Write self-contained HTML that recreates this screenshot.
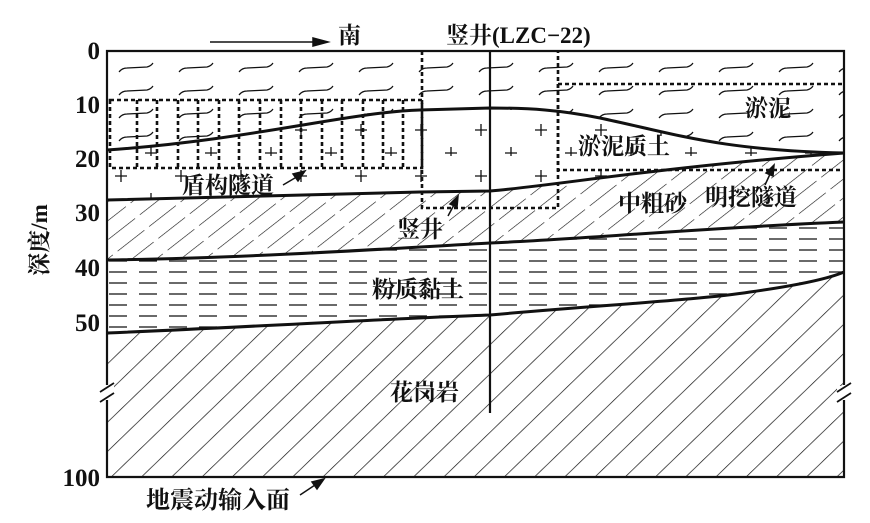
<!DOCTYPE html>
<html><head><meta charset="utf-8"><style>
html,body{margin:0;padding:0;background:#fff;}
svg{display:block}
text{font-family:"Liberation Serif","Noto Serif CJK SC","Noto Sans CJK SC",serif;fill:#111}
</style></head><body>
<svg width="870" height="523" viewBox="0 0 870 523" xmlns="http://www.w3.org/2000/svg">
<defs>
<pattern id="silt" width="60" height="23" patternUnits="userSpaceOnUse" x="107" y="62">
<path d="M12,10 Q15,6 20,6 L40,5 Q44,4 46,1" fill="none" stroke="#111" stroke-width="1.2"/>
</pattern>
<pattern id="plus" width="60" height="46" patternUnits="userSpaceOnUse" x="100" y="110">
<path d="M15,20 h12 M21,14 v12 M45,43 h12 M51,37 v12" stroke="#111" stroke-width="1.3"/>
</pattern>
<pattern id="sand" width="15" height="40" patternUnits="userSpaceOnUse" patternTransform="rotate(52)">
<line x1="0" y1="0" x2="0" y2="40" stroke="#111" stroke-width="1.2" stroke-dasharray="22 6"/>
</pattern>
<pattern id="clay" width="30" height="11" patternUnits="userSpaceOnUse" x="107" y="256">
<line x1="2" y1="5" x2="20" y2="5" stroke="#111" stroke-width="1.2"/>
</pattern>
<pattern id="gran" width="21" height="40" patternUnits="userSpaceOnUse" patternTransform="rotate(46)">
<line x1="0" y1="0" x2="0" y2="40" stroke="#111" stroke-width="1.4"/>
</pattern>
</defs>

<path d="M107,51 H844 V153 C720,150 680,135 600,118 C560,110 530,108 490,108 L420,110 C350,112 250,140 107,150 Z" fill="url(#silt)"/>
<path d="M107,150 C250,140 350,112 420,110 L490,108 C530,108 560,110 600,118 C680,135 720,150 844,153 C650,168 560,185 490,191 L420,192 L107,200 Z" fill="url(#plus)"/>
<path d="M107,200 L420,192 L490,191 C560,185 650,168 844,153 V222 C700,228 600,238 490,243 C400,248 250,258 107,260 Z" fill="url(#sand)"/>
<path d="M107,260 C250,258 400,248 490,243 C600,238 700,228 844,222 V272 C830,278 800,285 750,292 C700,300 600,305 490,315 C400,318 250,327 107,333 Z" fill="url(#clay)"/>
<path d="M107,333 C250,327 400,318 490,315 C600,305 700,300 750,292 C800,285 830,278 844,272 V477 H107 Z" fill="url(#gran)"/>

<g fill="none" stroke="#111" stroke-width="3">
<path d="M107,150 C250,140 350,112 420,110 L490,108 C530,108 560,110 600,118 C680,135 720,150 844,153"/>
<path d="M107,200 L420,192 L490,191 C560,185 650,168 844,153"/>
<path d="M107,260 C250,258 400,248 490,243 C600,238 700,228 844,222"/>
<path d="M107,333 C250,327 400,318 490,315 C600,305 700,300 750,292 C800,285 830,278 844,272"/>
</g>

<g fill="none" stroke="#111" stroke-width="2.2">
<path d="M107,385 V51 H844 V385"/>
<path d="M107,400 V477 H844 V400"/>
</g>
<rect x="100" y="386" width="14" height="13" fill="#fff"/>
<rect x="837" y="386" width="14" height="13" fill="#fff"/>
<g stroke="#111" stroke-width="1.8">
<line x1="100" y1="392" x2="114" y2="383"/>
<line x1="100" y1="402" x2="114" y2="393"/>
<line x1="837" y1="392" x2="851" y2="383"/>
<line x1="837" y1="402" x2="851" y2="393"/>
</g>

<g fill="none" stroke="#111" stroke-width="2.6" stroke-dasharray="4 3">
<rect x="110" y="100" width="312" height="68"/>
<path d="M137,100V168 M157,100V168 M178,100V168 M198,100V168 M219,100V168 M239,100V168 M260,100V168 M281,100V168 M301,100V168 M322,100V168 M342,100V168 M363,100V168 M383,100V168 M403,100V168"/>
<path d="M422,51 V208 H558 V51"/>
<path d="M558,84 H844 M558,84 V170 H844"/>
</g>

<line x1="490" y1="51" x2="490" y2="413" stroke="#111" stroke-width="2.2"/>

<g stroke="#111" stroke-width="1.5" fill="#111">
<line x1="210" y1="42" x2="315" y2="42"/>
<path d="M328,42 L313,38 L313,46 Z"/>
<line x1="283" y1="185" x2="300" y2="175"/>
<path d="M305,171 L293,174 L298,181 Z"/>
<line x1="448" y1="216" x2="455" y2="203"/>
<path d="M458,196 L450,204 L457,207 Z"/>
<line x1="765" y1="185" x2="771" y2="172"/>
<path d="M774,165 L766,173 L773,176 Z"/>
<line x1="300" y1="495" x2="318" y2="483"/>
<path d="M324,479 L312,482 L317,489 Z"/>
</g>

<g font-size="25" font-weight="bold" text-anchor="end">
<text x="100" y="59">0</text>
<text x="100" y="113">10</text>
<text x="100" y="167">20</text>
<text x="100" y="221">30</text>
<text x="100" y="276">40</text>
<text x="100" y="331">50</text>
<text x="100" y="486">100</text>
</g>
<text transform="translate(47,240) rotate(-90)" font-size="23" font-weight="bold" text-anchor="middle">深度/m</text>

<g font-size="23" font-weight="bold">
<text x="338" y="43">南</text>
<text x="446" y="43">竖井(LZC−22)</text>
<text x="182" y="193">盾构隧道</text>
<text x="397" y="237">竖井</text>
<text x="745" y="116">淤泥</text>
<text x="578" y="154">淤泥质土</text>
<text x="618" y="211">中粗砂</text>
<text x="705" y="205">明挖隧道</text>
<text x="372" y="297">粉质黏土</text>
<text x="390" y="400">花岗岩</text>
<text x="146" y="508" font-size="24">地震动输入面</text>
</g>
</svg>
</body></html>
